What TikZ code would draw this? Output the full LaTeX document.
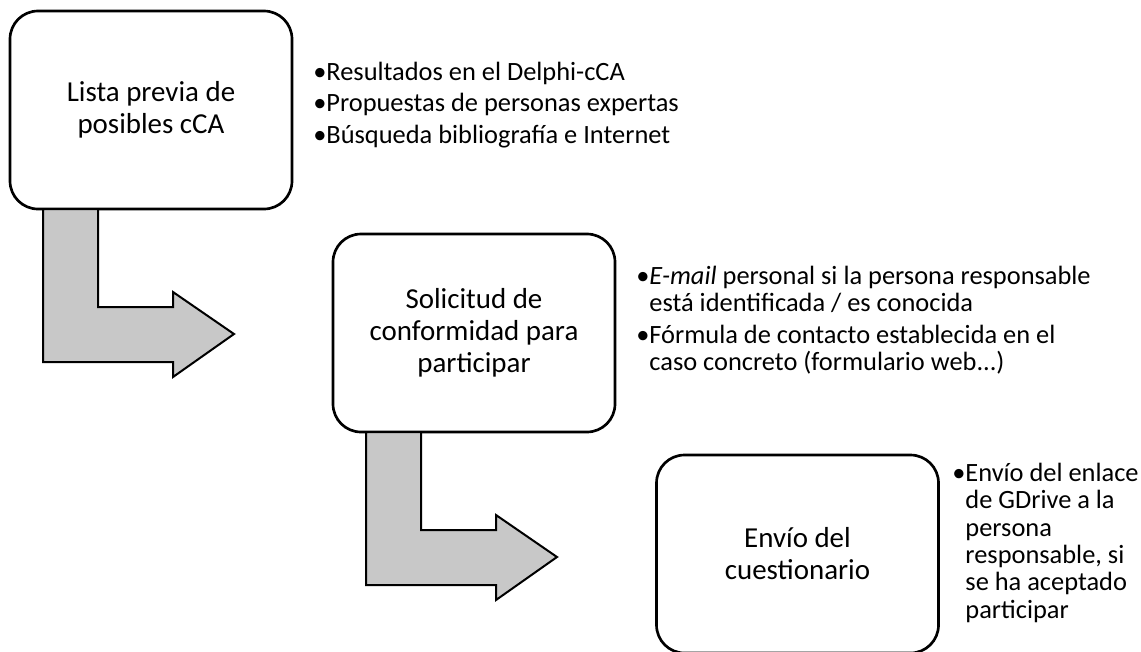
\documentclass[tikz,border=0pt]{standalone}
\usepackage{fontspec}
\setmainfont{Carlito}
\usepackage{tikz}

\definecolor{arrowgray}{RGB}{200,200,200}

\tikzset{
  stage/.style={draw=black, line width=2pt, rounded corners=21pt, fill=white,
    minimum width=211.5pt, minimum height=148.5pt, align=center,
    inner sep=0pt, outer sep=0pt, font=\fontsize{21.7}{24}\selectfont},
  notes/.style={anchor=north west, align=left, inner sep=0pt,
    font=\fontsize{19.8}{20.5}\selectfont},
  bendarrow/.style={draw=black, line width=1.5pt, fill=arrowgray, line join=miter}
}

\begin{document}
\begin{tikzpicture}[x=0.75pt,y=-0.75pt]
\useasboundingbox (0,0) rectangle (1141,651);

\node[stage] (lista) at (151,110) {Lista previa de\\posibles cCA};
\node[stage] (solicitud) at (474,333) {Solicitud de\\conformidad para\\participar};
\node[stage] (envio) at (797.5,554) {Envío del\\cuestionario};

\draw[bendarrow] ([xshift=24.75pt]lista.south west) -- ++(0,153) -- ++(130,0) -- ++(0,15)
  -- ++(61,-43) -- ++(-61,-42) -- ++(0,15) -- ++(-75,0) -- ++(0,-98) -- cycle;
\draw[bendarrow] ([xshift=24.75pt]solicitud.south west) -- ++(0,153) -- ++(130,0) -- ++(0,15)
  -- ++(61,-43) -- ++(-61,-42) -- ++(0,15) -- ++(-75,0) -- ++(0,-98) -- cycle;

\node[notes] (lista notes) at (313,62) {•Resultados en el Delphi-cCA\\[3pt]
  •Propuestas de personas expertas\\[3pt]
  •Búsqueda bibliografía e Internet};
\node[notes] (solicitud notes) at (636,266) {•\textit{E-mail} personal si la persona responsable\\
  \phantom{•}está identificada / es conocida\\[3pt]
  •Fórmula de contacto establecida en el\\
  \phantom{•}caso concreto (formulario web...)};
\node[notes] (envio notes) at (952,463) {•Envío del enlace\\
  \phantom{•}de GDrive a la\\
  \phantom{•}persona\\
  \phantom{•}responsable, si\\
  \phantom{•}se ha aceptado\\
  \phantom{•}participar};
\end{tikzpicture}
\end{document}
